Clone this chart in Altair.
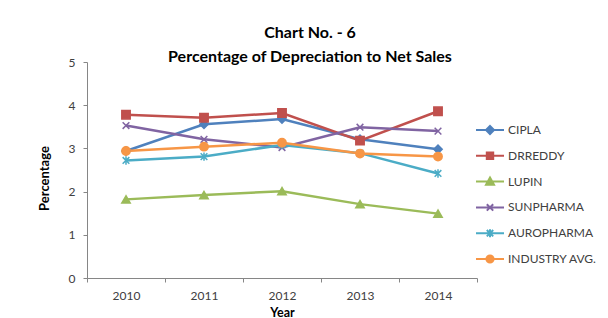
import altair as alt
import pandas as pd

years = ["2010", "2011", "2012", "2013", "2014"]
companies = ["CIPLA", "DRREDDY", "LUPIN", "SUNPHARMA", "AUROPHARMA", "INDUSTRY AVG."]
cipla = [2.94, 3.56, 3.68, 3.21, 2.98]
drreddy = [3.78, 3.71, 3.82, 3.18, 3.86]
lupin = [1.82, 1.92, 2.01, 1.71, 1.49]
sunpharma = [3.53, 3.21, 3.02, 3.49, 3.40]
auropharma = [2.72, 2.81, 3.08, 2.89, 2.42]
industry_avg = [2.94, 3.04, 3.13, 2.88, 2.81]
y_ticks = [0, 1, 2, 3, 4, 5]

colors = ["#4F81BD", "#C0504D", "#9BBB59", "#8064A2", "#4BACC6", "#F79646"]

# plot markers (unit coordinates, scaled by the symbol size)
x_path = "M-0.8,-0.8L0.8,0.8M-0.8,0.8L0.8,-0.8"
star_path = "M-0.8,-0.8L0.8,0.8M-0.8,0.8L0.8,-0.8M0,-1L0,1"
shapes = ["diamond", "square", "triangle-up", x_path, star_path, "circle"]

# legend keys: a short line with the marker on it
seg = "M-3.5,0L3.5,0"
legend_shapes = [
    seg + "M0,-1L1,0L0,1L-1,0Z",
    seg + "M-0.8,-0.8L0.8,-0.8L0.8,0.8L-0.8,0.8Z",
    seg + "M0,-1L1,0.8L-1,0.8Z",
    seg + "M-0.8,-0.8L0.8,0.8M-0.8,0.8L0.8,-0.8",
    seg + "M-0.8,-0.8L0.8,0.8M-0.8,0.8L0.8,-0.8M0,-1L0,1",
    seg + "M-0.9,0A0.9,0.9 0 1,0 0.9,0A0.9,0.9 0 1,0 -0.9,0Z",
]

series = [cipla, drreddy, lupin, sunpharma, auropharma, industry_avg]
rows = []
for name, vals in zip(companies, series):
    for yr, v in zip(years, vals):
        rows.append({"Year": yr, "Company": name, "Value": v})
df = pd.DataFrame(rows)

FONT = "Lato"
LABEL_COLOR = "#404040"

x_enc = alt.X(
    "Year:O", sort=years, bandPosition=0.5,
    scale=alt.Scale(type="band", paddingInner=0, paddingOuter=0),
    axis=alt.Axis(title="Year", labelAngle=0, tickBand="extent", tickSize=4,
                  labelPadding=8, domainColor="#868686", tickColor="#868686",
                  labelFont=FONT, labelFontSize=12, labelColor=LABEL_COLOR,
                  titleFont=FONT, titleFontSize=12.5, titleFontWeight="bold", titleColor="#000000",
                  titleX=195, titleY=34, titleBaseline="middle", titleAlign="center"),
)
y_enc = alt.Y(
    "Value:Q",
    scale=alt.Scale(domain=[0, 5], nice=False),
    axis=alt.Axis(values=y_ticks, title="Percentage", grid=False, tickSize=4, labelPadding=8,
                  domainColor="#868686", tickColor="#868686",
                  labelFont=FONT, labelFontSize=12, labelColor=LABEL_COLOR,
                  titleFont=FONT, titleFontSize=13, titleFontWeight="bold", titleColor="#000000",
                  titleX=-43, titleY=116, titleAngle=270, titleBaseline="middle", titleAlign="center"),
)

color_scale = alt.Scale(domain=companies, range=colors)
shape_scale = alt.Scale(domain=companies, range=shapes)
legend_shape_scale = alt.Scale(domain=companies, range=legend_shapes)

legend_keys = alt.Legend(
    orient="none", legendX=397, legendY=62, title=None, padding=0,
    symbolSize=64, symbolStrokeWidth=2, symbolOpacity=1,
    labelFont=FONT, labelFontSize=12, labelColor=LABEL_COLOR, labelOffset=12,
    rowPadding=9.8,
)

base = alt.Chart(df)

lines = base.mark_line(strokeWidth=2.5).encode(
    x=x_enc, y=y_enc,
    color=alt.Color("Company:N", scale=color_scale, sort=companies, legend=None),
    detail="Company:N",
)

points = base.mark_point(filled=True, size=70, strokeWidth=1.5, opacity=1).encode(
    x=x_enc, y=y_enc,
    fill=alt.Fill("Company:N", scale=color_scale, sort=companies, legend=None),
    stroke=alt.Stroke("Company:N", scale=color_scale, sort=companies, legend=None),
    shape=alt.Shape("Company:N", scale=shape_scale, sort=companies, legend=None),
)

# legend-only layer: filtered to no rows, its scales carry the full domain
legend_layer = base.transform_filter("datum.Value < 0").mark_point(
    filled=True, strokeWidth=2, opacity=1
).encode(
    x=x_enc, y=y_enc,
    fill=alt.Fill("Company:N", scale=color_scale, sort=companies, legend=legend_keys),
    stroke=alt.Stroke("Company:N", scale=color_scale, sort=companies, legend=legend_keys),
    shape=alt.Shape("Company:N", scale=legend_shape_scale, sort=companies, legend=legend_keys),
)

chart = alt.layer(lines, points, legend_layer).resolve_scale(
    fill="independent", stroke="independent", shape="independent"
).properties(
    width=390, height=216,
    autosize=alt.AutoSizeParams(type="none"),
    padding={"left": 79, "top": 54, "right": 123, "bottom": 40},
    title=alt.TitleParams(
        ["Chart No. - 6", "Percentage of Depreciation to Net Sales"],
        font=FONT, fontSize=16, fontWeight="bold", color="#000000",
        anchor="middle", dx=28, offset=-9, lineHeight=24,
    ),
).configure_view(stroke=None)

chart.save("out.html", embed_options={"renderer": "svg", "actions": False})
